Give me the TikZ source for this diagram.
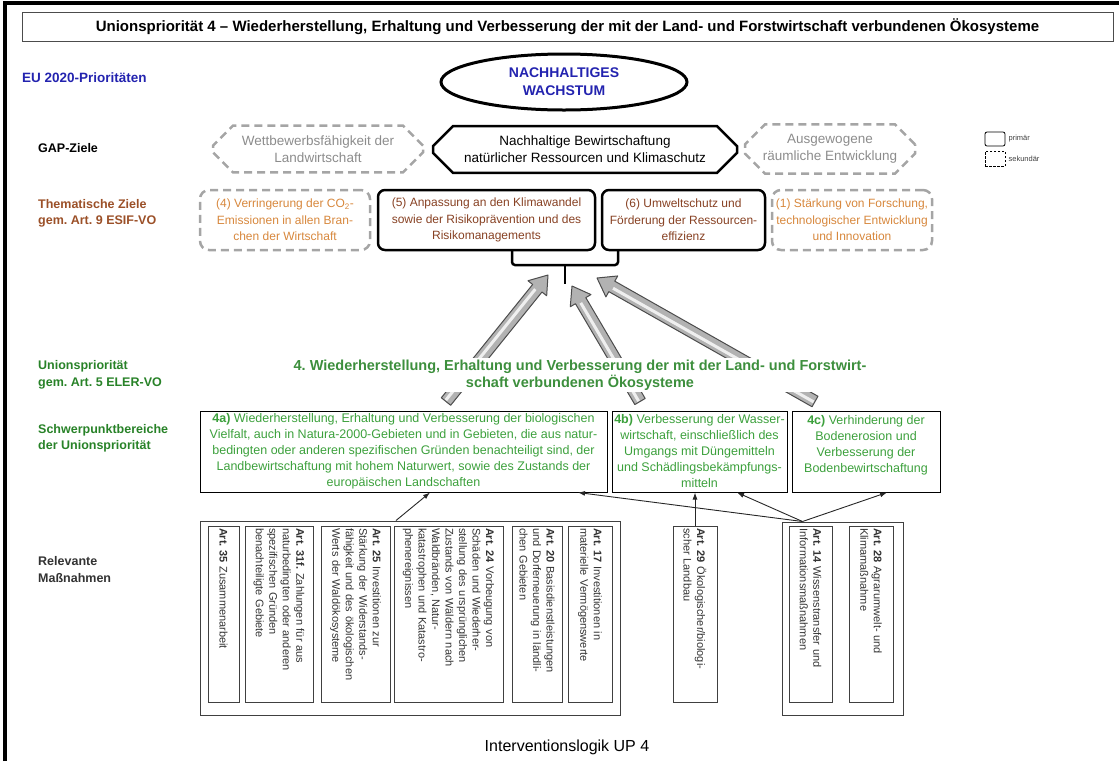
\documentclass[tikz,border=0pt]{standalone}
\usepackage{fontspec}
\setmainfont{Liberation Sans}
\usetikzlibrary{%
    arrows.meta,
    calc,
    positioning,
    shapes.geometric,
    shapes.misc
}
\frenchspacing
\definecolor{eublue}{RGB}{35,35,175}
\definecolor{tzbrown}{RGB}{155,80,40}
\definecolor{tzdark}{RGB}{135,65,35}
\definecolor{tzlight}{RGB}{215,135,60}
\definecolor{gapgray}{RGB}{140,140,140}
\definecolor{dashgray}{RGB}{165,165,165}
\definecolor{upgreen}{RGB}{40,130,40}
\definecolor{spgreen}{RGB}{60,160,60}
\definecolor{arrowgray}{RGB}{178,178,178}
\tikzset{rowlabel/.style = {anchor=west, align=left, inner sep=0pt, font=\fontsize{12.5}{16.5}\selectfont\bfseries}}
\tikzset{titlebox/.style = {draw=black!70, line width=1pt, minimum width=1091pt, minimum height=29pt, inner sep=0pt, font=\fontsize{15}{18}\selectfont\bfseries}}
\tikzset{growth/.style = {ellipse, draw, line width=3pt, minimum width=246pt, minimum height=56pt, inner sep=0pt, align=center, text=eublue, font=\fontsize{14}{18}\selectfont\bfseries}}
\tikzset{gapprim/.style = {chamfered rectangle, chamfered rectangle xsep=10pt, chamfered rectangle ysep=10pt, draw, line width=2.5pt, inner sep=0pt, minimum width=304pt, minimum height=45pt, align=center, font=\fontsize{13.5}{17}\selectfont}}
\tikzset{gapsec/.style = {chamfered rectangle, chamfered rectangle xsep=10pt, chamfered rectangle ysep=10pt, draw=dashgray, dash pattern=on 8pt off 5pt, line width=2.5pt, inner sep=0pt, minimum width=210pt, minimum height=38pt, align=center, text=gapgray, font=\fontsize{13.5}{17}\selectfont}}
\tikzset{primbox/.style = {draw, line width=2.5pt, rounded corners=7pt, inner sep=0pt, minimum height=60pt, align=center, text=tzdark, font=\fontsize{12}{16.5}\selectfont}}
\tikzset{secbox/.style = {draw=dashgray, line width=2.5pt, dash pattern=on 8pt off 5pt, rounded corners=9pt, inner sep=0pt, minimum height=60pt, align=center, text=tzlight, font=\fontsize{12}{16.5}\selectfont}}
\tikzset{legtext/.style = {inner sep=0pt, text=black!75, font=\fontsize{7.5}{9}\selectfont}}
\tikzset{bracket/.style = {line width=2.5pt, rounded corners=3pt}}
\tikzset{bigarrow/.style = {fill=arrowgray, draw=black!70, line width=1pt, line join=round}}
\tikzset{arrowshine/.style = {draw=white, line width=3pt, opacity=0.8}}
\tikzset{heading/.style = {fill=white, inner sep=2pt, align=center, text=upgreen!90!white, font=\fontsize{14.5}{16.5}\selectfont\bfseries}}
\tikzset{spbox/.style = {draw, line width=1pt, inner sep=0pt, minimum height=81pt, align=center, text=spgreen, font=\fontsize{12.5}{16}\selectfont}}
\tikzset{grpbox/.style = {draw=black!75, line width=1pt, inner sep=0pt}}
\tikzset{artbox/.style = {draw=black!75, line width=0.8pt, rotate=-90, minimum width=176pt, text width=172pt, inner sep=2pt, align=left, text=black!80, font=\fontsize{11}{13.5}\selectfont}}
\tikzset{conn/.style = {-{Latex[length=7pt,width=5pt]}, line width=0.9pt, draw=black!85}}
\newcommand{\blockarrow}[2]{%
    \draw[bigarrow] let \p1 = ($(#2)-(#1)$), \n1 = {atan2(\y1,\x1)}, \n2 = {veclen(\x1,\y1)} in
        [shift={(#1)}, rotate=\n1] (0,-6) -- ({\n2-17},-6) -- ({\n2-17},-12) -- (\n2,0) -- ({\n2-17},12) -- ({\n2-17},6) -- (0,6) -- cycle;
    \draw[arrowshine] let \p1 = ($(#2)-(#1)$), \n1 = {atan2(\y1,\x1)}, \n2 = {veclen(\x1,\y1)} in
        [shift={(#1)}, rotate=\n1] (1,-1) -- ({\n2-19},-1);
}

\begin{document}
\begin{tikzpicture}[x=1pt, y=-1pt]
    \useasboundingbox (0,0) rectangle (1119,761);
    \draw[line width=4pt] (5,761) -- (5,3) -- (1119,3);
    \node[titlebox] (title) at (567.5,26.5) {Unionspriorität 4 – Wiederherstellung, Erhaltung und Verbesserung der mit der Land- und Forstwirtschaft verbundenen Ökosysteme};

    \node[rowlabel, text=eublue, font=\fontsize{13.5}{16.5}\selectfont\bfseries] (lbleu) at (22,78) {EU 2020-Prioritäten};
    \node[rowlabel] (lblgap) at (38,148) {GAP-Ziele};
    \node[rowlabel, text=tzbrown] (lbltz) at (38,213.5) {Thematische Ziele\\gem. Art. 9 ESIF-VO};
    \node[rowlabel, text=upgreen] (lblup) at (38,375) {Unionspriorität\\gem. Art. 5 ELER-VO};
    \node[rowlabel, text=upgreen] (lblsp) at (38,438.5) {Schwerpunktbereiche\\der Unionspriorität};
    \node[rowlabel, text=black!80] (lblmn) at (38,569.5) {Relevante\\Maßnahmen};

    \node[growth] (growth) at (564,82) {NACHHALTIGES\\WACHSTUM};

    \node[gapsec] (gapwb) at (318,149) {Wettbewerbsfähigkeit der\\Landwirtschaft};
    \node[gapprim] (gapnb) at (585,149.5) {Nachhaltige Bewirtschaftung\\natürlicher Ressourcen und Klimaschutz};
    \node[gapsec, minimum width=170pt] (gapre) at (830,149) {Ausgewogene\\räumliche Entwicklung};

    \node[draw, line width=0.8pt, rounded corners=2pt, minimum width=20pt, minimum height=14pt] (legprim) at (995,139) {};
    \node[legtext, right=3pt of legprim] (legprimtxt) {primär};
    \node[draw, line width=0.8pt, dash pattern=on 2.5pt off 1.5pt, minimum width=20pt, minimum height=15pt] (legsec) at (995,158.5) {};
    \node[legtext, right=3pt of legsec] (legsectxt) {sekundär};

    \node[secbox, minimum width=170pt] (tz4) at (285,220) {(4) Verringerung der CO\textsubscript{2}-\\Emissionen in allen Bran-\\chen der Wirtschaft};
    \node[primbox, minimum width=217pt] (tz5) at (486.5,220) {(5) Anpassung an den Klimawandel\\sowie der Risikoprävention und des\\Risikomanagements};
    \node[primbox, minimum width=163pt] (tz6) at (683.5,220) {(6) Umweltschutz und\\Förderung der Ressourcen-\\effizienz};
    \node[secbox, minimum width=160pt] (tz1) at (852,220) {(1) Stärkung von Forschung,\\technologischer Entwicklung\\und Innovation};

    \coordinate (bstem) at (565,284);
    \draw[bracket] (512,251) -- (512,265) -- (618,265) -- (618,251);
    \draw[bracket] (565,265) -- (bstem);

    \node[spbox, minimum width=407pt] (sp4a) at (403.5,451.5) {\textbf{4a)} Wiederherstellung, Erhaltung und Verbesserung der biologischen\\Vielfalt, auch in Natura-2000-Gebieten und in Gebieten, die aus natur-\\bedingten oder anderen spezifischen Gründen benachteiligt sind, der\\Landbewirtschaftung mit hohem Naturwert, sowie des Zustands der\\europäischen Landschaften};
    \node[spbox, minimum width=175pt] (sp4b) at (699.5,451.5) {\textbf{4b)} Verbesserung der Wasser-\\wirtschaft, einschließlich des\\Umgangs mit Düngemitteln\\und Schädlingsbekämpfungs-\\mitteln};
    \node[spbox, minimum width=148pt] (sp4c) at (866,451.5) {\textbf{4c)} Verhinderung der\\Bodenerosion und\\Verbesserung der\\Bodenbewirtschaftung\\~};

    \coordinate (tail4a) at ([xshift=42.5pt,yshift=9pt]sp4a.north);
    \coordinate (tail4b) at ([xshift=-59.5pt,yshift=9pt]sp4b.north);
    \coordinate (tail4c) at ([xshift=-51pt,yshift=9pt]sp4c.north);
    \coordinate (tip4a) at (548,275);
    \coordinate (tip4b) at (572,286);
    \coordinate (tip4c) at (597,278);
    \blockarrow{tail4a}{tip4a}
    \blockarrow{tail4b}{tip4b}
    \blockarrow{tail4c}{tip4c}

    \node[heading] (up4) at (580,375) {4. Wiederherstellung, Erhaltung und Verbesserung der mit der Land- und Forstwirt-\\schaft verbundenen Ökosysteme};

    \node[grpbox, minimum width=420pt, minimum height=194pt] (grp1) at (410,618) {};
    \node[grpbox, minimum width=121pt, minimum height=193pt] (grp2) at (842.5,618.5) {};
    \node[artbox, minimum height=31pt] (art35) at (223.5,614) {\textbf{Art. 35} Zusammenarbeit};
    \node[artbox, minimum height=68pt] (art31) at (279,614) {\textbf{Art. 31f.} Zahlungen für aus\\naturbedingten oder anderen\\spezifischen Gründen\\benachteiligte Gebiete};
    \node[artbox, minimum height=69pt] (art25) at (355.5,614) {\textbf{Art. 25} Investitionen zur\\Stärkung der Widerstands-\\fähigkeit und des ökologischen\\Werts der Waldökosysteme};
    \node[artbox, minimum height=109pt] (art24) at (448.5,614) {\textbf{Art. 24} Vorbeugung von\\Schäden und Wiederher-\\stellung des ursprünglichen\\Zustands von Wäldern nach\\Waldbränden, Natur-\\katastrophen und Katastro-\\phenereignissen};
    \node[artbox, minimum height=50pt] (art20) at (537,614) {\textbf{Art. 20} Basisdienstleistungen\\und Dorferneuerung in ländli-\\chen Gebieten};
    \node[artbox, minimum height=44pt] (art17) at (590,614) {\textbf{Art. 17} Investitionen in\\materielle Vermögenswerte};
    \node[artbox, minimum height=44pt] (art29) at (695,614) {\textbf{Art. 29} Ökologischer/biologi-\\scher Landbau};
    \node[artbox, minimum height=43pt] (art14) at (810.5,614) {\textbf{Art. 14} Wissenstransfer und\\Informationsmaßnahmen};
    \node[artbox, minimum height=44pt] (art28) at (871,614) {\textbf{Art. 28} Agrarumwelt- und\\Klimamaßnahme};

    \coordinate (g1out) at ([xshift=-14pt]grp1.north);
    \coordinate (g2out) at ([xshift=21pt]grp2.north west);
    \draw[conn] (g1out) -- ([xshift=26.5pt]sp4a.south);
    \draw[conn] (g2out) -- ([xshift=174.5pt]sp4a.south);
    \draw[conn] (g2out) -- ([xshift=37.5pt]sp4b.south);
    \draw[conn] (g2out) -- ([xshift=21pt]sp4c.south);
    \draw[conn] (art29.west) -- (art29.west |- sp4b.south);

    \node[font=\fontsize{16}{19}\selectfont] (caption) at (567,747) {Interventionslogik UP 4};
\end{tikzpicture}
\end{document}
